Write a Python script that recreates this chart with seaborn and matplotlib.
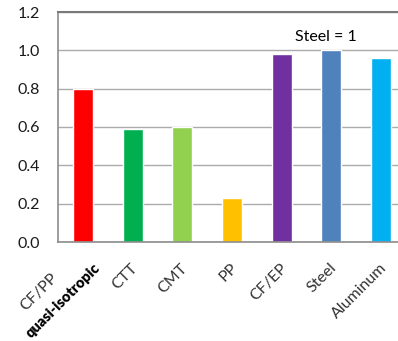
import matplotlib
matplotlib.use("Agg")
import matplotlib.pyplot as plt
from matplotlib.transforms import ScaledTranslation
import seaborn as sns
import pandas as pd
import numpy as np

categories = ["CF/PP", "CTT", "CMT", "PP", "CF/EP", "Steel", "Aluminum"]
values = [0.80, 0.59, 0.60, 0.23, 0.98, 1.00, 0.96]
colors = ["#FF0000", "#00B050", "#92D050", "#FFC000", "#7030A0", "#4F81BD", "#00B0F0"]
yticks = [0.0, 0.2, 0.4, 0.6, 0.8, 1.0, 1.2]
sub_label = "quasi-isotropic"
annotation = "Steel = 1"

sns.set_style("white")
plt.rcParams["font.family"] = ["Lato", "DejaVu Sans"]

df = pd.DataFrame({"cat": categories, "val": values})

fig = plt.figure(figsize=(3.98, 3.41), dpi=100)
W, H = 398, 341
left, right, bottom, top = 58, 406, 242, 12
ax = fig.add_axes([left / W, 1 - bottom / H, (right - left) / W, (bottom - top) / H])

sns.barplot(data=df, x="cat", y="val", hue="cat", palette=colors, legend=False,
            width=0.4, ax=ax, saturation=1)

ax.set_xlim(-0.5, len(categories) - 0.5)
ax.set_ylim(0, 1.2)
ax.set_yticks(yticks)
ax.set_yticklabels([f"{v:.1f}" for v in yticks], fontsize=11.5, color="#1a1a1a")
ax.tick_params(axis="y", length=0, pad=13)
ax.yaxis.grid(True, color="#ABABAB", linewidth=1.0)
ax.set_axisbelow(True)
ax.set_xlabel("")
ax.set_ylabel("")

for s in ["left", "top", "bottom", "right"]:
    ax.spines[s].set_color("#8C8C8C")
    ax.spines[s].set_linewidth(1.2)
ax.spines["top"].set_color("#7A7A7A")
ax.spines["top"].set_linewidth(1.5)

# x ticks: labels at centers, marks at boundaries
ax.set_xticks(range(len(categories)))
labels = [""] + categories[1:]
ax.set_xticklabels(labels, rotation=45, ha="right", va="center",
                   rotation_mode="anchor", fontsize=11.5, color="#333333")
ax.tick_params(axis="x", which="major", length=0, pad=0)
ax.set_xticks(np.arange(-0.5, len(categories), 1.0), minor=True)
ax.tick_params(axis="x", which="minor", length=5, color="#8C8C8C", width=1)
for lab in ax.get_xticklabels():
    lab.set_transform(lab.get_transform() + ScaledTranslation(3 / 100, -24 / 100, fig.dpi_scale_trans))

# first category two-line label
ax.annotate(categories[0], xy=(0, 0), xycoords=("data", "axes fraction"),
            xytext=(-27, -34), textcoords="offset pixels", rotation=45,
            ha="right", va="center", rotation_mode="anchor", fontsize=11.5,
            color="#333333")
ax.annotate(sub_label, xy=(0, 0), xycoords=("data", "axes fraction"),
            xytext=(15, -24), textcoords="offset pixels", rotation=45,
            ha="right", va="center", rotation_mode="anchor", fontsize=10.5,
            fontweight="heavy", color="black")

ax.text(categories.index("Steel") - 0.12, 1.067, annotation, ha="center", va="center",
        fontsize=11.5, color="black")

fig.savefig("out.png", dpi=100)
